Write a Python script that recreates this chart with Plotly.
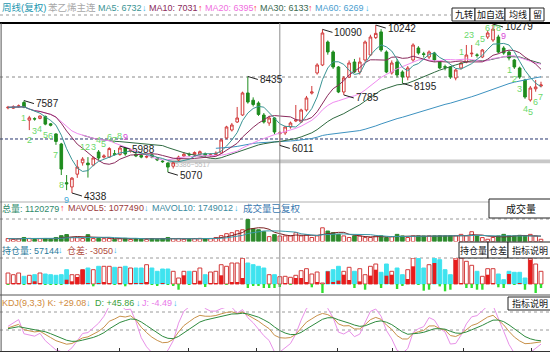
import pandas as pd
import plotly.graph_objects as go

W, H = 550, 352
FONT = "Liberation Sans, Noto Sans CJK SC, sans-serif"

# ---------------- data (weekly bars) ----------------
opens = [7330, 7320, 7370, 7520, 6900, 6950, 6960, 7030, 6770, 6413,
         6060, 4700, 4550, 5000, 5400, 5390, 5320, 5780, 5600, 5600,
         5720, 5690, 5920, 5800, 5700, 5660, 5600, 5680, 5570, 5460,
         5390, 5280, 5500, 5640, 5700, 5680, 5700, 5720, 5660, 5690,
         5745, 6272, 6553, 6834, 7080, 7854, 7600, 7500, 7080, 6800,
         6975, 6420, 6450, 6660, 6870, 6834, 7256, 7850, 8557, 8838,
         9646, 9295, 8767, 7889, 8416, 8943, 8592, 9013, 9189, 9800,
         10000, 9295, 8557, 8943, 8592, 8416, 9013, 9435, 9230, 9119,
         9260, 8943, 8780, 8767, 8381, 8732, 8943, 9230, 9190, 9119,
         9822, 9717, 9822, 9435, 9295, 9013, 8732, 8311, 7608, 8000,
         8100]
highs = [7400, 7420, 7450, 7587, 7050, 7000, 7060, 7060, 6800, 6440,
         6100, 4970, 4900, 5500, 5600, 5600, 5620, 5850, 5700, 5950,
         5850, 5988, 5950, 5900, 5750, 5700, 5680, 5720, 5600, 5500,
         5420, 5450, 5650, 5780, 5760, 5800, 5830, 5760, 5730, 5800,
         6250, 6700, 6800, 7362, 7900, 8435, 7700, 7560, 7150, 7050,
         7000, 6520, 6700, 6850, 7432, 7300, 7750, 8100, 8900, 10090,
         9700, 9350, 8800, 8450, 9000, 9050, 9100, 9700, 9900, 10242,
         10100, 9350, 9000, 9050, 8650, 8800, 9600, 9500, 9300, 9350,
         9300, 8980, 8850, 8800, 8700, 8950, 9541, 9541, 9250, 9400,
         10050, 10279, 9900, 9500, 9350, 9050, 8780, 8350, 8100, 8311,
         8250]
lows = [7280, 7290, 7330, 7320, 6550, 6880, 6930, 6720, 6680, 6030,
        4970, 4440, 4338, 4870, 5300, 4880, 5280, 5500, 5550, 5570,
        5650, 5650, 5650, 5760, 5600, 5560, 5560, 5560, 5460, 5400,
        5070, 5200, 5450, 5600, 5620, 5640, 5660, 5610, 5620, 5660,
        5720, 6230, 6500, 6800, 7050, 7480, 7380, 7050, 6780, 6700,
        6400, 6011, 6380, 6600, 6830, 6800, 7200, 7800, 8500, 8800,
        9200, 8700, 7850, 7785, 8380, 8550, 8500, 8950, 9150, 9750,
        9300, 8550, 8500, 8400, 8195, 8300, 8950, 9200, 9100, 9050,
        8950, 8700, 8650, 8350, 8300, 8680, 8900, 9119, 9100, 9080,
        9750, 9650, 9250, 9200, 9000, 8700, 8350, 7650, 7550, 7900,
        8050]
closes = [7350, 7370, 7400, 7350, 6980, 6940, 7045, 6760, 6720, 6150,
          5180, 4660, 4860, 5250, 5530, 5330, 5570, 5569, 5640, 5900,
          5700, 5920, 5710, 5850, 5640, 5600, 5620, 5600, 5500, 5440,
          5250, 5400, 5600, 5700, 5680, 5760, 5790, 5650, 5680, 5740,
          6202, 6659, 6729, 6975, 7854, 7537, 7450, 7100, 6834, 6975,
          6483, 6450, 6659, 6799, 6905, 7256, 7678, 7890, 8838, 9963,
          9295, 8767, 7889, 8381, 8908, 8592, 8943, 9646, 9822, 9950,
          9365, 8592, 8908, 8486, 8416, 8732, 9541, 9260, 9210, 9295,
          9013, 8732, 8760, 8416, 8662, 8908, 9189, 9250, 9180, 9365,
          9963, 10100, 9295, 9260, 9084, 8767, 8416, 7713, 8029, 8065,
          8135]
volumes = [600000, 420000, 580000, 820000, 640000, 420000, 600000, 620000, 440000, 820000,
           1200000, 1420000, 820000, 800000, 620000, 1400000, 600000, 640000, 580000, 620000,
           420000, 600000, 640000, 420000, 600000, 440000, 420000, 600000, 440000, 620000,
           820000, 600000, 620000, 440000, 420000, 600000, 640000, 600000, 620000, 820000,
           1200000, 1600000, 1800000, 2200000, 2400000, 4500000, 2600000, 2400000, 2000000, 1000000,
           1400000, 1120279, 1140000, 1160000, 1800000, 1140000, 1400000, 820000, 1150000, 2800000,
           2140000, 1800000, 1460000, 1140000, 820000, 1150000, 1130000, 800000, 820000, 1140000,
           1160000, 800000, 1000000, 1460000, 1140000, 820000, 1150000, 1140000, 1120000, 1160000,
           1140000, 1150000, 1130000, 1160000, 1140000, 1460000, 1150000, 2000000, 1140000, 800000,
           460000, 820000, 1140000, 1460000, 1150000, 1140000, 1260000, 1130000, 1460000, 1140000,
           460000]
open_interest = [65850, 61860, 65850, 58100, 60450, 61860, 65850, 63500, 61860, 60450,
                 61860, 73600, 61860, 61860, 73600, 77600, 73600, 81600, 81600, 81600,
                 79250, 79250, 81600, 77600, 77600, 77600, 85350, 77600, 69850, 75250,
                 75250, 69850, 54100, 69850, 69850, 69850, 77600, 61860, 68200, 69850,
                 85350, 81600, 89350, 89350, 100500, 89350, 85350, 81600, 77600, 61860,
                 61860, 57144, 58100, 55750, 60450, 71250, 75950, 63500, 68200, 42350,
                 69850, 73600, 81600, 69850, 79250, 69850, 75950, 61860, 81600, 87000,
                 67500, 87000, 69850, 77600, 61860, 73600, 100800, 100500, 77600, 85350,
                 100800, 97100, 73600, 61860, 100800, 100800, 93350, 83950, 69850, 58100,
                 75950, 75950, 63500, 50100, 69850, 67500, 67500, 54100, 100500, 87000,
                 69850]
oi_change = [-800, 600, 900, -700, 500, 2700, 1000, -600, -500, -400,
             -300, 4300, 2700, 7000, 14300, 600, -2300, 900, 1200, 800,
             -500, 400, -2300, 700, 600, 500, 1500, -800, -1500, 800,
             -600, -1200, -5700, 8700, -700, 600, 3300, -3000, 1000, 700,
             8700, -1000, 1500, 1200, 6000, -4000, -1500, -1200, -4000, -4000,
             -4000, -3050, 500, -1000, 6000, 6000, 2000, -3300, 1500, -9000,
             12700, 1600, 3400, 9300, 4000, -4000, 2600, -5700, 8400, 14300,
             -4000, 8300, 9300, -5000, -2000, 5000, 17700, -700, -6700, -5700,
             21000, -2400, -7300, -5700, 24300, 1000, -4000, -4000, -5700, -5700,
             9300, 1000, -3300, -4000, 10000, -1000, 1000, -5700, 24300, -9000,
             -4000]

td_buy_idx = [3, 4, 5, 6, 7, 8, 9, 10, 11, 94, 95, 96, 97, 98, 99, 100]
td_buy_txt = ["1", "2", "3", "4", "5", "6", "7", "8", "9", "1", "2", "3", "4", "5", "6", "7"]
td_sell_idx = [14, 15, 16, 17, 18, 19, 20, 21, 22, 85, 86, 87, 88, 89, 90, 91, 92, 93]
td_sell_txt = ["1", "2", "3", "4", "5", "6", "7", "8", "9", "1", "2", "3", "4", "5", "6", "7", "8", "9"]

peak_idx = [3, 21, 45, 59, 69, 91]
trough_idx = [12, 30, 51, 63, 74]
band_low, band_high, band_start = 5386, 5517, 30
cursor_idx = 51
week_ticks = [9.2, 21, 33.8, 46.7, 61.9, 72.2, 85.4, 98.3]

# ---------------- derived indicators ----------------
n = len(closes)
x = list(range(n))
cs = pd.Series(closes, dtype=float)
ma = {
    5: cs.rolling(5, min_periods=1).mean(),
    10: cs.rolling(10, min_periods=1).mean(),
    20: cs.rolling(20, min_periods=1).mean(),
    30: cs.rolling(30, min_periods=15).mean(),
    60: cs.rolling(60, min_periods=40).mean(),
}
vs = pd.Series(volumes, dtype=float)
mavol5 = vs.rolling(5, min_periods=1).mean()
mavol10 = vs.rolling(10, min_periods=1).mean()

llv = pd.Series(lows, dtype=float).rolling(9, min_periods=1).min()
hhv = pd.Series(highs, dtype=float).rolling(9, min_periods=1).max()
rsv = (cs - llv) / (hhv - llv) * 100
K, D = [], []
k = d = 50.0
for r in rsv:
    k = 2 / 3 * k + r / 3
    d = 2 / 3 * d + k / 3
    K.append(k)
    D.append(d)
J = [3 * a - 2 * b for a, b in zip(K, D)]

# ---------------- colours ----------------
UP = "#d23a3a"
DN = "#1e8c1e"
MA_COL = {5: "#3a9494", 10: "#8a2a5c", 20: "#f08af0", 30: "#2f6a40", 60: "#3d92c0"}
CYAN = "#3fe3ef"

def py(ypx):
    return 1 - ypx / H

fig = go.Figure()

# main candles
fig.add_trace(go.Candlestick(
    x=x, open=opens, high=highs, low=lows, close=closes,
    increasing=dict(line=dict(color=UP, width=1), fillcolor="white"),
    decreasing=dict(line=dict(color=DN, width=1), fillcolor=DN),
    whiskerwidth=0, xaxis="x", yaxis="y", hoverinfo="skip"))
for w in [60, 30, 20, 10, 5]:
    fig.add_trace(go.Scatter(x=x, y=ma[w], mode="lines", line=dict(color=MA_COL[w], width=1),
                             xaxis="x", yaxis="y", hoverinfo="skip"))

up = [c >= o for o, c in zip(opens, closes)]

# volume
fig.add_trace(go.Bar(
    x=x, y=volumes, width=0.68, xaxis="x", yaxis="y2",
    marker=dict(color=["white" if u else "#2d8a2d" for u in up],
                line=dict(color=[UP if u else "#2d8a2d" for u in up], width=1)),
    hoverinfo="skip"))
fig.add_trace(go.Scatter(x=x, y=mavol5, mode="lines", line=dict(color="#7a2020", width=1),
                         xaxis="x", yaxis="y2", hoverinfo="skip"))
fig.add_trace(go.Scatter(x=x, y=mavol10, mode="lines", line=dict(color="#3a9aaa", width=1),
                         xaxis="x", yaxis="y2", hoverinfo="skip"))

# open interest
OI_BASE = 40000
fig.add_trace(go.Bar(
    x=x, y=[v - OI_BASE for v in open_interest], base=OI_BASE, width=0.72, xaxis="x", yaxis="y3",
    marker=dict(color=["white" if u else CYAN for u in up],
                line=dict(color=[UP if u else CYAN for u in up], width=1)),
    hoverinfo="skip"))
fig.add_trace(go.Bar(
    x=x, y=oi_change, width=[0.72 if v > 0 else 0.45 for v in oi_change], xaxis="x", yaxis="y4",
    marker=dict(color=["#e81c1c" if v > 0 else "#2fe02f" for v in oi_change], line=dict(width=0)),
    hoverinfo="skip"))

# KDJ
fig.add_trace(go.Scatter(x=x, y=J, mode="lines", line=dict(color="#e890e8", width=1), xaxis="x", yaxis="y5", hoverinfo="skip"))
fig.add_trace(go.Scatter(x=x, y=K, mode="lines", line=dict(color="#c8914a", width=1), xaxis="x", yaxis="y5", hoverinfo="skip"))
fig.add_trace(go.Scatter(x=x, y=D, mode="lines", line=dict(color="#2e8b3e", width=1), xaxis="x", yaxis="y5", hoverinfo="skip"))

# ---------------- shapes ----------------
shapes = []
def hline_px(ypx, color, width=1, dash="solid", x0=0, x1=1):
    shapes.append(dict(type="line", xref="paper", yref="paper", x0=x0, x1=x1, y0=py(ypx), y1=py(ypx),
                       line=dict(color=color, width=width, dash=dash), layer="below"))

hline_px(15, "#9a9a9a", 1, "dot", 0, 0.82)
hline_px(23, "#000000", 2)
hline_px(202, "#b0b0b0", 1)
hline_px(219, "#9a9a9a", 1, "dot")
hline_px(258, "#9a9a9a", 1, "dot")
hline_px(295, "#555555", 1)
hline_px(312, "#9a9a9a", 1, "dot")
hline_px(330, "#9a9a9a", 1, "dot")
shapes.append(dict(type="line", xref="paper", yref="paper", x0=0.002, x1=0.002, y0=py(351), y1=py(23),
                   line=dict(color="#555", width=1)))
# price guide lines
shapes.append(dict(type="line", xref="paper", yref="y", x0=0, x1=1, y0=8416, y1=8416,
                   line=dict(color="#8a8a8a", width=1, dash="dot"), layer="below"))
shapes.append(dict(type="line", xref="paper", yref="y", x0=0, x1=1, y0=6237, y1=6237,
                   line=dict(color="#26346e", width=1, dash="3px,2px"), layer="below"))
# support band
shapes.append(dict(type="rect", xref="x", yref="y", x0=band_start, x1=101.7, y0=band_low, y1=band_high,
                   fillcolor="#c8c8c8", line=dict(width=0), layer="below"))
# cursor
shapes.append(dict(type="line", xref="x", yref="paper", x0=cursor_idx, x1=cursor_idx, y0=py(351), y1=py(23),
                   line=dict(color="#8c8c8c", width=1)))

def button(x0, x1, y0, y1, txt, size=9):
    shapes.append(dict(type="rect", xref="paper", yref="paper", x0=x0 / W, x1=x1 / W, y0=py(y1), y1=py(y0),
                       fillcolor="white", line=dict(color="#222", width=1)))
    fig.add_annotation(text=txt, x=(x0 + x1) / 2 / W, y=py((y0 + y1) / 2), xref="paper", yref="paper",
                       showarrow=False, xanchor="center", yanchor="middle",
                       font=dict(family=FONT, size=size, color="#111"))

button(452, 475, 8, 21, "九转")
button(475, 505, 8, 21, "加自选")
button(505, 530, 8, 21, "均线")
button(530, 544, 8, 21, "留")
button(489, 552, 199, 218, "成交量", 10)
button(459, 488, 242, 258, "持仓量")
button(488, 508, 242, 258, "仓差")
button(508, 552, 242, 258, "指标说明")
button(508, 552, 297, 310, "指标说明")
fig.layout.shapes = tuple(shapes)

def label(txt, xpx, ypx, color, size=9):
    fig.add_annotation(text=txt, x=xpx / W, y=py(ypx), xref="paper", yref="paper", showarrow=False,
                       xanchor="left", yanchor="middle", font=dict(family=FONT, size=size, color=color))

ARR_UP, ARR_DN = "#ff3030", "#3cb8ee"
# main header
label("周线(复权)", 0, 8, "#1e97b0", 9.5)
label("苯乙烯主连", 46, 8, "#a8a8a8", 9.5)
label("MA5: 6732", 96, 8, "#3a9494")
label("↓", 140, 8, ARR_DN)
label("MA10: 7031", 147, 8, "#8a2a5c")
label("↑", 196, 8, ARR_UP)
label("MA20: 6395", 203, 8, "#f070e0")
label("↑", 251, 8, ARR_UP)
label("MA30: 6133", 258, 8, "#3a6a50")
label("↑", 306, 8, ARR_UP)
label("MA60: 6269", 313, 8, "#4a9ed0")
label("↓", 363, 8, ARR_DN)
# volume header
label("总量: 1120279", 0, 208, "#2e8a6a")
label("↑", 58, 208, ARR_UP)
label("MAVOL5: 1077490", 66, 208, "#9a3a3a")
label("↓", 142, 208, ARR_DN)
label("MAVOL10: 1749012", 150, 208, "#3a8aa0")
label("↓", 232, 208, ARR_DN)
label("成交量已复权", 241, 208, "#3a78b0", 9.5)
# OI header
label("持仓量: 57144", 0, 250, "#2a7a9a")
label("↓", 56, 250, ARR_DN)
label("仓差: -3050", 65, 250, "#b04a3a")
label("↓", 111, 250, ARR_DN)
# KDJ header
label("KDJ(9,3,3) K: +29.08", 0, 303, "#d08a3a")
label("↓", 84, 303, ARR_DN)
label("D: +45.86", 93, 303, "#3aa03a")
label("↓", 134, 303, ARR_DN)
label("J: -4.49", 140, 303, "#e87ae8")
label("↓", 171, 303, ARR_DN)

# extreme markers
for i in peak_idx:
    fig.add_annotation(x=i, y=highs[i], xref="x", yref="y", text=str(highs[i]), showarrow=True,
                       ax=10, ay=3, xanchor="left", arrowhead=0, arrowwidth=1, arrowcolor="#222",
                       font=dict(family=FONT, size=10, color="#222"))
for i in trough_idx:
    fig.add_annotation(x=i, y=lows[i], xref="x", yref="y", text=str(lows[i]), showarrow=True,
                       ax=10, ay=3, xanchor="left", arrowhead=0, arrowwidth=1, arrowcolor="#222",
                       font=dict(family=FONT, size=10, color="#222"))
fig.add_annotation(x=band_start + 1, y=band_low, xref="x", yref="y", text=f"{band_low}~{band_high}",
                   showarrow=False, xanchor="left", yanchor="top", yshift=4,
                   font=dict(family=FONT, size=7, color="#b8b8b8"))

# TD sequence numbers (kept inside the price pane)
TOP_LIMIT = 9800
for i, t in zip(td_buy_idx, td_buy_txt):
    col = "#3aa8d8" if t == "9" else "#6ad86a"
    fig.add_annotation(x=i, y=lows[i], xref="x", yref="y", text=t, showarrow=False, yshift=-10,
                       font=dict(family=FONT, size=9, color=col))
for i, t in zip(td_sell_idx, td_sell_txt):
    col = "#d848d8" if t == "9" else "#6ad86a"
    fig.add_annotation(x=i, y=min(highs[i], TOP_LIMIT), xref="x", yref="y", text=t, showarrow=False,
                       yshift=10, font=dict(family=FONT, size=9, color=col))

fig.update_layout(
    width=W, height=H, margin=dict(l=0, r=0, t=0, b=0),
    paper_bgcolor="white", plot_bgcolor="white",
    showlegend=False, hovermode=False, barmode="overlay",
    xaxis=dict(domain=[0, 1], range=[-1.5, 101.69], anchor="y5", showticklabels=False,
               showgrid=False, zeroline=False, showline=True, linecolor="#333", linewidth=1,
               ticks="inside", ticklen=3, tickcolor="#333", tickvals=week_ticks,
               rangeslider=dict(visible=False)),
    yaxis=dict(domain=[py(202), py(23)], range=[4022, 10314], visible=False, anchor="x"),
    yaxis2=dict(domain=[py(241.5), py(219)], range=[0, 4.6e6], visible=False, anchor="x"),
    yaxis3=dict(domain=[py(295), py(258)], range=[14150, 101100], visible=False, anchor="x"),
    yaxis4=dict(overlaying="y3", range=[-11000, 26000], visible=False, anchor="x"),
    yaxis5=dict(domain=[py(351), py(308)], range=[-2, 100], visible=False, anchor="x"),
)

fig.write_html("out.html")
